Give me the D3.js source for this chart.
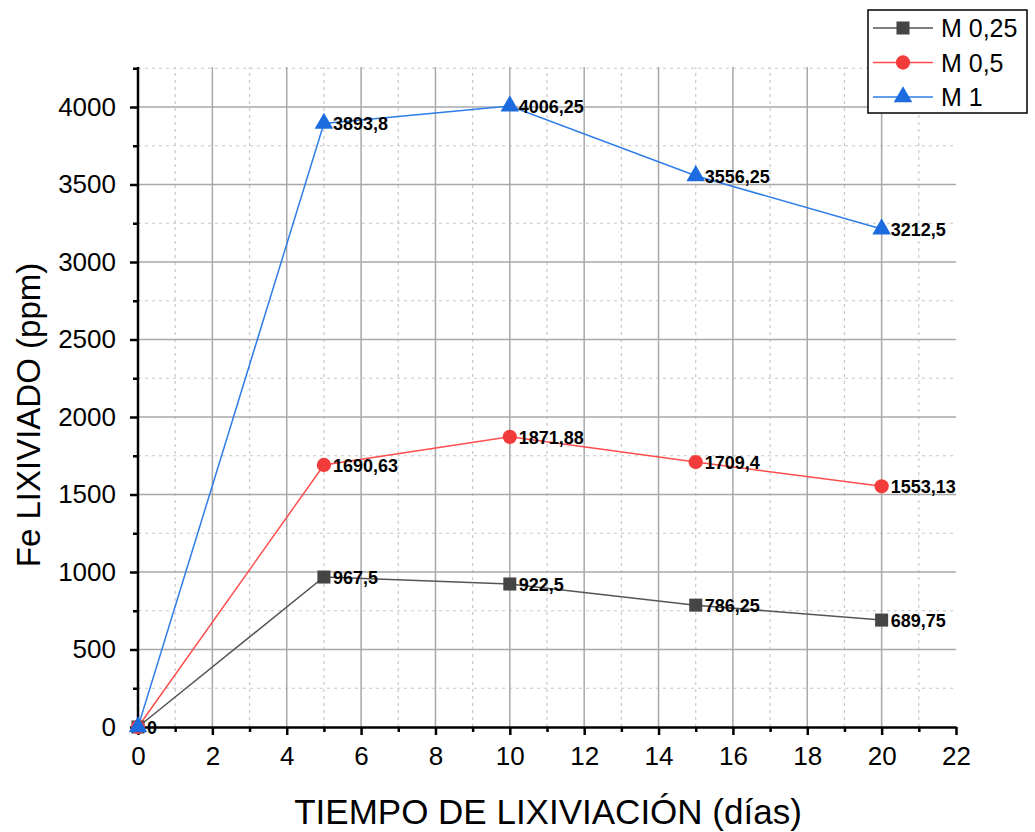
<!DOCTYPE html>
<html><head><meta charset="utf-8">
<script src="https://cdn.jsdelivr.net/npm/d3@7"></script>
<style>body{margin:0;background:#fff}svg{display:block}text{font-family:"Liberation Sans",Arial,sans-serif}</style>
</head><body><svg id="c" width="1035" height="832"></svg>
<script>
const days = [0, 5, 10, 15, 20];
const m025 = [0, 967.5, 922.5, 786.25, 689.75];
const m05 = [0, 1690.63, 1871.88, 1709.4, 1553.13];
const m1 = [0, 3893.8, 4006.25, 3556.25, 3212.5];
const lbl025 = ["0", "967,5", "922,5", "786,25", "689,75"];
const lbl05 = ["", "1690,63", "1871,88", "1709,4", "1553,13"];
const lbl1 = ["", "3893,8", "4006,25", "3556,25", "3212,5"];
const seriesNames = ["M 0,25", "M 0,5", "M 1"];
const xTicks = [0, 2, 4, 6, 8, 10, 12, 14, 16, 18, 20, 22];
const yTicks = [0, 500, 1000, 1500, 2000, 2500, 3000, 3500, 4000];

const svg = d3.select("#c");
const x = d3.scaleLinear().domain([0, 22]).range([138, 956]);
const y = d3.scaleLinear().domain([0, 4000]).range([727, 107]);
const yTop = y(4258);

const series = [
  {name: seriesNames[0], vals: m025, labels: lbl025, line: "#555555", fill: "#454545", shape: d3.symbolSquare, size: 170},
  {name: seriesNames[1], vals: m05, labels: lbl05, line: "#ff4d4d", fill: "#f23c3c", shape: d3.symbolCircle, size: 160},
  {name: seriesNames[2], vals: m1, labels: lbl1, line: "#2f7de8", fill: "#1c6ce0", shape: d3.symbolTriangle, size: 150}
];

// grid
const g = svg.append("g");
const xMinor = d3.range(1, 22, 2);
const yMinor = d3.range(250, 4300, 500);
g.selectAll(".xm").data(xMinor).join("line")
  .attr("x1", d => x(d)).attr("x2", d => x(d)).attr("y1", y(0)).attr("y2", yTop)
  .attr("stroke", "#c8c8c8").attr("stroke-width", 1.2).attr("stroke-dasharray", "3,4");
g.selectAll(".ym").data(yMinor).join("line")
  .attr("y1", d => y(d)).attr("y2", d => y(d)).attr("x1", x(0)).attr("x2", x(22))
  .attr("stroke", "#c8c8c8").attr("stroke-width", 1.2).attr("stroke-dasharray", "3,4");
g.selectAll(".xM").data(xTicks.slice(1, -1)).join("line")
  .attr("x1", d => x(d)).attr("x2", d => x(d)).attr("y1", y(0)).attr("y2", yTop)
  .attr("stroke", "#a8a8a8").attr("stroke-width", 1.5);
g.selectAll(".yM").data(yTicks.slice(1)).join("line")
  .attr("y1", d => y(d)).attr("y2", d => y(d)).attr("x1", x(0)).attr("x2", x(22))
  .attr("stroke", "#a8a8a8").attr("stroke-width", 1.5);

// axes
const fmt = d3.format("d");
const xAxis = svg.append("g").attr("transform", `translate(0,${y(0)})`)
  .call(d3.axisBottom(x).tickValues(xTicks).tickFormat(fmt).tickSize(8).tickPadding(12).tickSizeOuter(0));
const xAxisMinor = svg.append("g").attr("transform", `translate(0,${y(0)})`)
  .call(d3.axisBottom(x).tickValues(xMinor).tickSize(5).tickFormat("").tickSizeOuter(0));
const yAxis = svg.append("g").attr("transform", `translate(${x(0)},0)`)
  .call(d3.axisLeft(y).tickValues(yTicks).tickFormat(fmt).tickSize(8).tickPadding(14).tickSizeOuter(0));
const yAxisMinor = svg.append("g").attr("transform", `translate(${x(0)},0)`)
  .call(d3.axisLeft(y).tickValues(yMinor).tickSize(5).tickFormat("").tickSizeOuter(0));
[xAxis, xAxisMinor, yAxis, yAxisMinor].forEach(a => {
  a.select(".domain").attr("stroke", "#000").attr("stroke-width", 2.5);
  a.selectAll(".tick line").attr("stroke", "#000").attr("stroke-width", 2.5);
  a.selectAll(".tick text").attr("fill", "#000").style("font-size", "26px").style("font-family", "Liberation Sans, Arial, sans-serif");
});
yAxis.select(".domain").attr("d", `M0,${y(0)}V${yTop}`);
yAxisMinor.select(".domain").remove();
xAxisMinor.select(".domain").remove();

// series
const line = d3.line().x((d, i) => x(days[i])).y(d => y(d));
series.forEach(s => {
  svg.append("path").datum(s.vals).attr("d", line).attr("fill", "none")
    .attr("stroke", s.line).attr("stroke-width", 1.5);
});
series.forEach(s => {
  svg.selectAll(null).data(s.vals).join("path")
    .attr("transform", (d, i) => `translate(${x(days[i])},${y(d)})`)
    .attr("d", d3.symbol().type(s.shape).size(s.size)).attr("fill", s.fill);
});
series.forEach(s => {
  svg.selectAll(null).data(s.vals).join("text")
    .attr("x", (d, i) => x(days[i]) + 9).attr("y", d => y(d) + 7)
    .text((d, i) => s.labels[i])
    .attr("fill", "#000").style("font-size", "18px").style("font-weight", "bold");
});

// axis titles
svg.append("text").attr("x", 548).attr("y", 824).attr("text-anchor", "middle")
  .style("font-size", "35px").attr("fill", "#000").text("TIEMPO DE LIXIVIACIÓN (días)");
svg.append("text").attr("transform", "translate(40,415) rotate(-90)").attr("text-anchor", "middle")
  .style("font-size", "33px").attr("fill", "#000").text("Fe LIXIVIADO (ppm)");

// legend
const lg = svg.append("g");
lg.append("rect").attr("x", 868).attr("y", 10).attr("width", 159).attr("height", 103)
  .attr("fill", "#fff").attr("stroke", "#000").attr("stroke-width", 1.5);
series.forEach((s, i) => {
  const yy = 28 + i * 34.5;
  lg.append("line").attr("x1", 873).attr("x2", 933).attr("y1", yy).attr("y2", yy)
    .attr("stroke", s.line).attr("stroke-width", 1.5);
  lg.append("path").attr("transform", `translate(903,${yy})`)
    .attr("d", d3.symbol().type(s.shape).size(s.size)).attr("fill", s.fill);
  lg.append("text").attr("x", 941).attr("y", yy + 9).style("font-size", "25px").attr("fill", "#000").text(s.name);
});
</script></body></html>
